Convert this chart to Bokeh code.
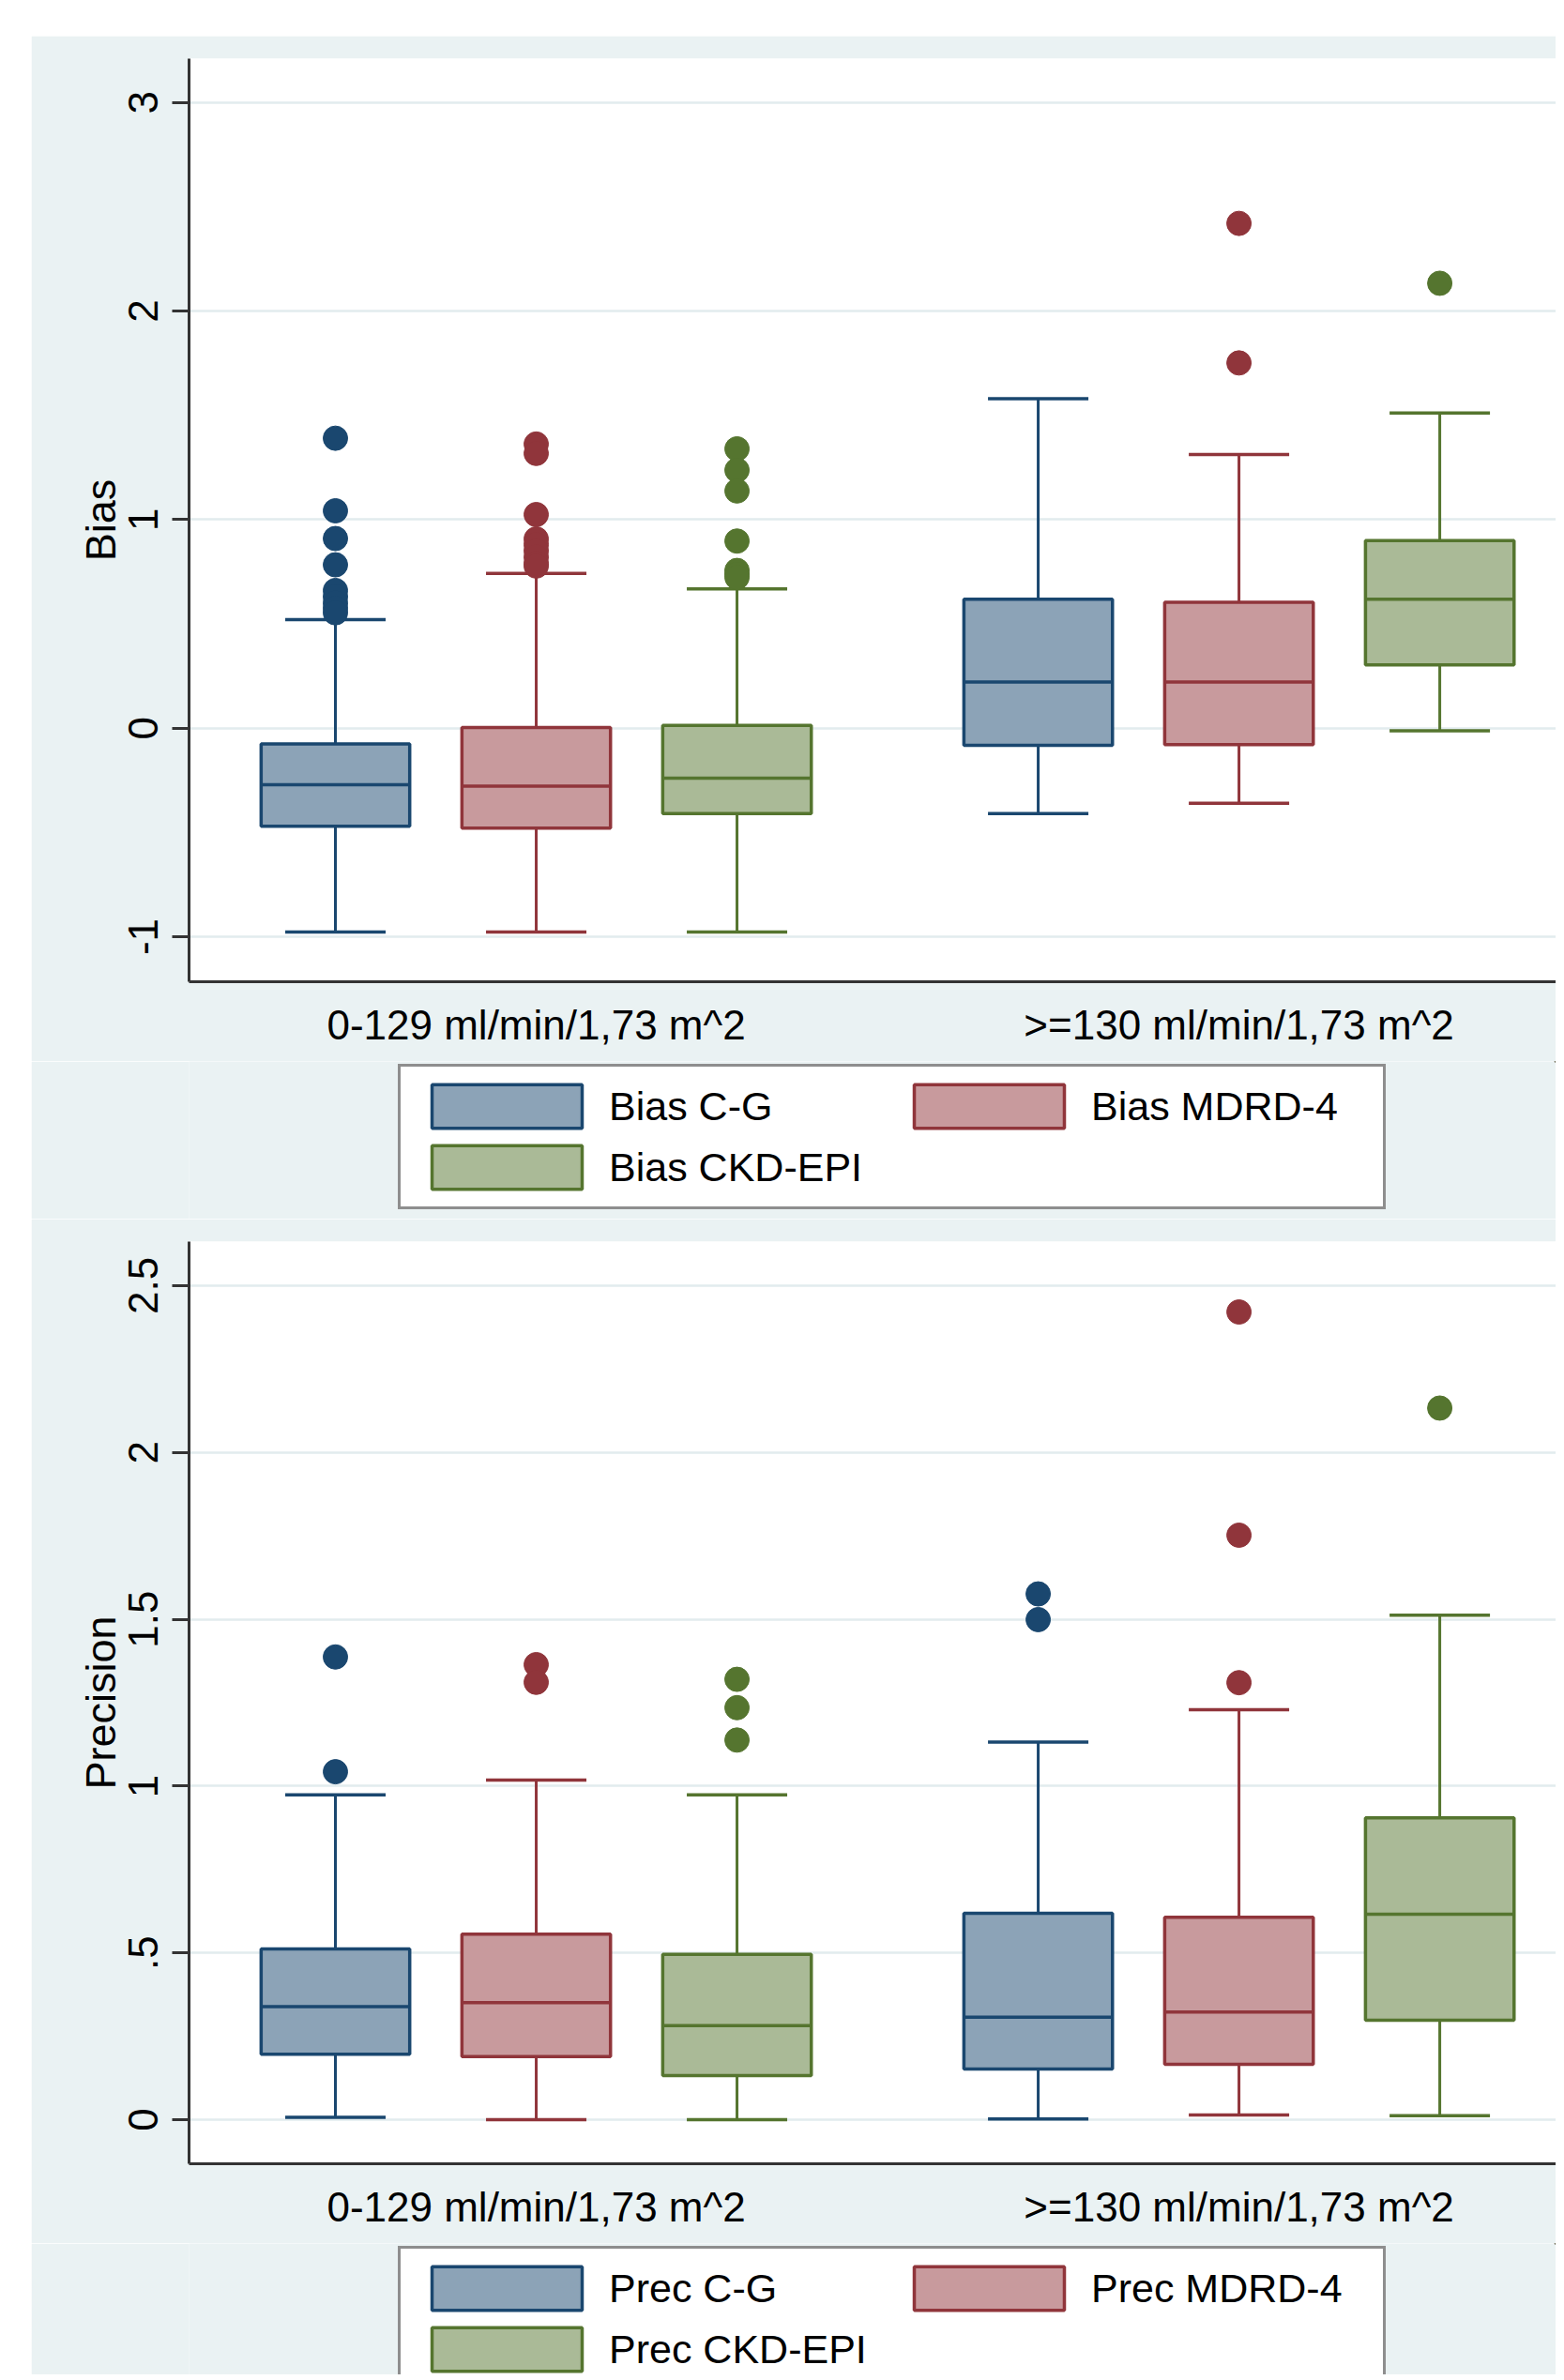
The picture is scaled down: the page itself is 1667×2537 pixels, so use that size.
import numpy as np
from bokeh.plotting import figure
from bokeh.models import ColumnDataSource, FixedTicker, Legend, LegendItem, Range1d, Spacer
from bokeh.layouts import column, row
from bokeh.embed import file_html
from bokeh.resources import INLINE

# ---------------- data ----------------
groups = ["0-129 ml/min/1,73 m^2", ">=130 ml/min/1,73 m^2"]

bias_series = ["Bias C-G", "Bias MDRD-4", "Bias CKD-EPI"]
# per series: [group 1, group 2]
bias_lower = [[-0.978, -0.410], [-0.978, -0.360], [-0.978, -0.013]]
bias_q1 = [[-0.470, -0.083], [-0.480, -0.079], [-0.410, 0.303]]
bias_median = [[-0.271, 0.221], [-0.278, 0.221], [-0.240, 0.618]]
bias_q3 = [[-0.076, 0.618], [0.003, 0.603], [0.013, 0.899]]
bias_upper = [[0.520, 1.580], [0.742, 1.312], [0.667, 1.511]]
bias_outliers = [
    [[1.390, 1.042, 0.909, 0.783, 0.660, 0.630, 0.600, 0.575, 0.553], []],
    [[1.362, 1.317, 1.024, 0.907, 0.880, 0.850, 0.820, 0.790, 0.777], [2.420, 1.751]],
    [[1.339, 1.237, 1.137, 0.897, 0.756, 0.738, 0.723], [2.133]],
]
bias_ticks = [-1, 0, 1, 2, 3]
bias_tick_labels = ["-1", "0", "1", "2", "3"]

prec_series = ["Prec C-G", "Prec MDRD-4", "Prec CKD-EPI"]
prec_lower = [[0.007, 0.002], [0.000, 0.014], [0.000, 0.012]]
prec_q1 = [[0.196, 0.152], [0.189, 0.166], [0.132, 0.298]]
prec_median = [[0.339, 0.307], [0.351, 0.323], [0.282, 0.616]]
prec_q3 = [[0.512, 0.619], [0.556, 0.607], [0.496, 0.905]]
prec_upper = [[0.974, 1.132], [1.018, 1.229], [0.974, 1.512]]
prec_outliers = [
    [[1.387, 1.043], [1.576, 1.499]],
    [[1.364, 1.311], [2.421, 1.752, 1.310]],
    [[1.320, 1.235, 1.138], [2.133]],
]
prec_ticks = [0, 0.5, 1, 1.5, 2, 2.5]
prec_tick_labels = ["0", ".5", "1", "1.5", "2", "2.5"]

# ---------------- style ----------------
FONT = "Liberation Sans"
BG = "#EAF2F3"
LINE_COLORS = ["#1A476F", "#90353B", "#55752F"]
FILL_COLORS = ["#8CA3B7", "#C89A9D", "#AABA97"]
AXIS_COLOR = "#333333"
BOX_W = 0.74
CAP_W = 0.5
GROUP_STEP = 3.5
FIG_W = 1625


def panel(ylabel, series, lower, q1, med, q3, upper, outliers, yticks, ylabels,
          yrange, height, border_bottom):
    p = figure(width=FIG_W, height=height,
               x_range=Range1d(-0.729, 6.079), y_range=Range1d(*yrange),
               output_backend="svg", toolbar_location=None,
               min_border_left=168, min_border_right=0, min_border_top=24,
               min_border_bottom=border_bottom,
               background_fill_color="white", border_fill_color=BG,
               outline_line_color=None)
    for s, name in enumerate(series):
        lc, fc = LINE_COLORS[s], FILL_COLORS[s]
        xs = [g * GROUP_STEP + s for g in range(len(groups))]
        src = ColumnDataSource(dict(
            x=xs,
            cl=[x - CAP_W / 2 for x in xs], cr=[x + CAP_W / 2 for x in xs],
            bl=[x - BOX_W / 2 for x in xs], br=[x + BOX_W / 2 for x in xs],
            lo=lower[s], q1=q1[s], med=med[s], q3=q3[s], hi=upper[s]))
        p.segment(x0="x", y0="q3", x1="x", y1="hi", source=src, line_color=lc, line_width=3)
        p.segment(x0="x", y0="lo", x1="x", y1="q1", source=src, line_color=lc, line_width=3)
        p.segment(x0="cl", y0="hi", x1="cr", y1="hi", source=src, line_color=lc, line_width=3.5)
        p.segment(x0="cl", y0="lo", x1="cr", y1="lo", source=src, line_color=lc, line_width=3.5)
        p.vbar(x="x", width=BOX_W, bottom="q1", top="q3", source=src,
               fill_color=fc, line_color=lc, line_width=3.5)
        p.segment(x0="bl", y0="med", x1="br", y1="med", source=src, line_color=lc, line_width=3.5)
        ox, oy = [], []
        for g in range(len(groups)):
            for v in outliers[s][g]:
                ox.append(xs[g])
                oy.append(v)
        p.scatter(ox, oy, size=26, fill_color=lc, line_color=lc)

    # x axis
    xa = p.xaxis[0]
    centers = [g * GROUP_STEP + 1 for g in range(len(groups))]
    xa.ticker = FixedTicker(ticks=centers)
    xa.major_label_overrides = {c: lbl for c, lbl in zip(centers, groups)}
    xa.major_tick_out = 0
    xa.major_tick_in = 0
    xa.minor_tick_line_color = None
    xa.axis_line_color = AXIS_COLOR
    xa.axis_line_width = 3
    xa.major_label_standoff = 21
    xa.major_label_text_font = FONT
    xa.major_label_text_font_size = "44px"
    xa.major_label_text_color = "black"

    # y axis
    ya = p.yaxis[0]
    ya.ticker = FixedTicker(ticks=yticks)
    ya.major_label_overrides = {t: l for t, l in zip(yticks, ylabels)}
    ya.major_label_orientation = "vertical"
    ya.major_tick_out = 18
    ya.major_tick_in = 0
    ya.major_tick_line_width = 3
    ya.major_tick_line_color = AXIS_COLOR
    ya.minor_tick_line_color = None
    ya.axis_line_color = AXIS_COLOR
    ya.axis_line_width = 3
    ya.major_label_standoff = 15
    ya.major_label_text_font = FONT
    ya.major_label_text_font_size = "44px"
    ya.major_label_text_color = "black"
    ya.axis_label = ylabel
    ya.axis_label_text_font = FONT
    ya.axis_label_text_font_size = "45px"
    ya.axis_label_text_font_style = "normal"
    ya.axis_label_text_color = "black"
    ya.axis_label_standoff = 2

    p.xgrid.grid_line_color = None
    p.ygrid.grid_line_color = "#E2ECEE"
    p.ygrid.grid_line_width = 2.5
    return p


def legend_panel(series, height, loc):
    q = figure(width=FIG_W, height=height, x_range=Range1d(0, 1), y_range=Range1d(0, 1),
               output_backend="svg", toolbar_location=None,
               x_axis_location=None, y_axis_location=None,
               min_border=0, min_border_left=0, min_border_right=0,
               min_border_top=0, min_border_bottom=0,
               background_fill_color=BG, border_fill_color=BG, outline_line_color=None)
    q.grid.visible = False
    items = []
    for s, name in enumerate(series):
        # swatch renderer (its single bar lies outside the visible range)
        r = q.vbar(x=[5], bottom=[5], top=[6], width=0.1, fill_color=FILL_COLORS[s],
                   line_color=LINE_COLORS[s], line_width=3.5)
        items.append(LegendItem(label=name, renderers=[r]))
    legend = Legend(items=items, orientation="horizontal", ncols=2, location=loc,
                    glyph_width=200, glyph_height=58, label_standoff=9,
                    label_width=298, spacing=7, padding=13, margin=0,
                    label_text_font=FONT, label_text_font_size="43px",
                    label_text_color="black",
                    background_fill_color="white", background_fill_alpha=1.0,
                    border_line_color="#1E1E1E", border_line_width=3)
    q.add_layout(legend, "center")
    return q


p1 = panel("Bias", bias_series, bias_lower, bias_q1, bias_median, bias_q3, bias_upper,
           bias_outliers, bias_ticks, bias_tick_labels, (-1.216, 3.21), 1093, 85)
l1 = legend_panel(bias_series, 168, (223, 10))
p2 = panel("Precision", prec_series, prec_lower, prec_q1, prec_median, prec_q3, prec_upper,
           prec_outliers, prec_ticks, prec_tick_labels, (-0.132, 2.632), 1092, 85)
l2 = legend_panel(prec_series, 140, (223, -18))

layout = column(Spacer(height=38), row(Spacer(width=33), column(p1, l1, p2, l2)))

open("out.html", "w").write(file_html(layout, INLINE))
